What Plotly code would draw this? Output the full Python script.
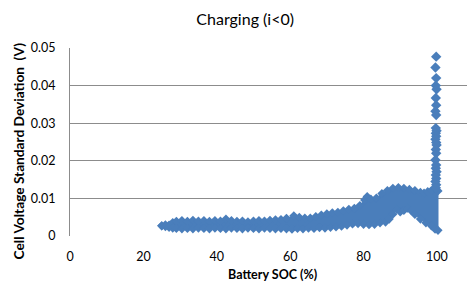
import plotly.graph_objects as go

# Upper envelope of the dense band (SOC %, std dev V)
upper_soc = [25.0, 26.0, 27.0, 28.0, 29.0, 30.5, 32.0, 33.5, 35.0, 36.5, 38.0, 39.5, 41.0, 42.5,
             44.0, 45.5, 47.0, 48.5, 50.0, 51.5, 53.0, 54.5, 56.0, 57.5, 59.0, 61.0, 62.5, 64.0,
             65.5, 67.0, 68.5, 70.0, 71.5, 73.0, 74.5, 76.0, 77.5, 79.0, 80.3, 81.0, 82.0, 83.5,
             85.0, 86.5, 88.0, 89.5, 91.0, 92.5, 94.0, 95.5, 96.5, 97.5, 98.5, 99.5, 100.3]
upper_v = [0.0027, 0.0030, 0.0029, 0.0036, 0.0039, 0.0041, 0.0039, 0.0042, 0.0040, 0.0041,
           0.0039, 0.0041, 0.0040, 0.0045, 0.0041, 0.0039, 0.0040, 0.0038, 0.0040, 0.0041,
           0.0040, 0.0042, 0.0043, 0.0044, 0.0047, 0.0054, 0.0050, 0.0048, 0.0048, 0.0052,
           0.0056, 0.0059, 0.0062, 0.0063, 0.0067, 0.0071, 0.0074, 0.0081, 0.0096, 0.0105,
           0.0098, 0.0101, 0.0113, 0.0121, 0.0127, 0.0129, 0.0127, 0.0124, 0.0121, 0.0116,
           0.0114, 0.0118, 0.0121, 0.0128, 0.0120]

# Lower envelope of the dense band
lower_soc = [25.0, 26.0, 27.0, 28.0, 29.0, 30.5, 32.0, 33.5, 35.0, 36.5, 38.0, 39.5, 41.0, 42.5,
             44.0, 45.5, 47.0, 48.5, 50.0, 51.5, 53.0, 54.5, 56.0, 57.5, 59.0, 60.5, 62.0, 63.5,
             65.0, 66.5, 68.0, 69.5, 71.0, 72.5, 74.0, 75.5, 77.0, 78.5, 80.0, 81.5, 83.0, 84.5,
             86.0, 87.0, 88.0, 89.0, 90.0, 91.0, 92.0, 93.0, 94.0, 95.5, 97.0, 98.5, 99.5, 100.3]
lower_v = [0.0027, 0.0025, 0.0023, 0.0021, 0.0020, 0.0019, 0.0020, 0.0019, 0.0021, 0.0020,
           0.0019, 0.0021, 0.0020, 0.0019, 0.0021, 0.0020, 0.0019, 0.0021, 0.0020, 0.0019,
           0.0021, 0.0020, 0.0019, 0.0020, 0.0019, 0.0018, 0.0020, 0.0019, 0.0021, 0.0020,
           0.0022, 0.0021, 0.0023, 0.0024, 0.0026, 0.0029, 0.0032, 0.0033, 0.0031, 0.0030,
           0.0031, 0.0035, 0.0037, 0.0045, 0.0058, 0.0071, 0.0064, 0.0068, 0.0074, 0.0067,
           0.0057, 0.0045, 0.0035, 0.0027, 0.0018, 0.0015]

# Isolated points of the spike near 100 % SOC
spike_soc = [99.8, 99.6, 99.8, 99.7, 99.9, 99.7, 99.8, 99.6, 99.8, 99.7, 99.9, 99.7, 99.8,
             99.6, 99.8, 99.9, 99.7, 99.8, 99.6, 99.8, 99.7, 99.9, 99.7, 99.8, 99.6, 99.8, 99.7]
spike_v = [0.0477, 0.0448, 0.0420, 0.0400, 0.0390, 0.0367, 0.0348, 0.0332, 0.0322, 0.0287,
           0.0280, 0.0273, 0.0265, 0.0257, 0.0249, 0.0242, 0.0230, 0.0220, 0.0202, 0.0189,
           0.0180, 0.0171, 0.0162, 0.0153, 0.0145, 0.0136, 0.0128]

x_ticks = [0, 20, 40, 60, 80, 100]
y_ticks = [0, 0.01, 0.02, 0.03, 0.04, 0.05]
y_tick_text = ["0", "0.01", "0.02", "0.03", "0.04", "0.05"]

BLUE = "#4A7EBB"
GRID = "#8C8C8C"
FONT = "Lato"

fig = go.Figure()
fig.add_trace(go.Scatter(
    x=upper_soc + lower_soc[::-1], y=upper_v + lower_v[::-1],
    mode="lines", fill="toself", fillcolor=BLUE,
    line=dict(color=BLUE, width=1), hoverinfo="skip", showlegend=False))
fig.add_trace(go.Scatter(
    x=upper_soc + lower_soc, y=upper_v + lower_v, mode="markers",
    marker=dict(symbol="diamond", size=7, color=BLUE, line=dict(width=0)),
    showlegend=False))
fig.add_trace(go.Scatter(
    x=spike_soc, y=spike_v, mode="markers",
    marker=dict(symbol="diamond", size=8, color=BLUE, line=dict(width=0)),
    showlegend=False))

fig.update_layout(
    width=467, height=282,
    margin=dict(l=70, r=0, t=48, b=46),
    paper_bgcolor="white", plot_bgcolor="white",
    font=dict(family=FONT, size=12.5, color="#000000"),
    title=dict(text="Charging (i<0)", x=0.525, xanchor="center", y=0.93, yanchor="middle",
               font=dict(family=FONT, size=16, color="#000000")),
    xaxis=dict(range=[0, 108.2], tickvals=x_ticks, showgrid=False, zeroline=False,
               showline=False, ticks="", ticklabelstandoff=11),
    yaxis=dict(range=[0, 0.05], tickvals=y_ticks, ticktext=y_tick_text,
               showgrid=True, gridcolor=GRID, gridwidth=1, zeroline=False,
               showline=True, linecolor=GRID, linewidth=1, ticks="", ticklabelstandoff=11),
    annotations=[
        dict(text="<b>Battery SOC (%)</b>", xref="paper", yref="paper",
             x=0.511, y=-0.203, xanchor="center", yanchor="middle", showarrow=False,
             font=dict(family=FONT, size=12.5)),
        dict(text="<b>Cell Voltage Standard Deviation  (V)</b>", xref="paper", yref="paper",
             x=-0.13, y=0.452, xanchor="center", yanchor="middle", showarrow=False,
             textangle=-90, font=dict(family=FONT, size=13.7)),
    ],
)

fig.write_html("out.html", config={"displayModeBar": False},
               post_script="document.body.style.margin='0';document.body.style.overflow='hidden';")
